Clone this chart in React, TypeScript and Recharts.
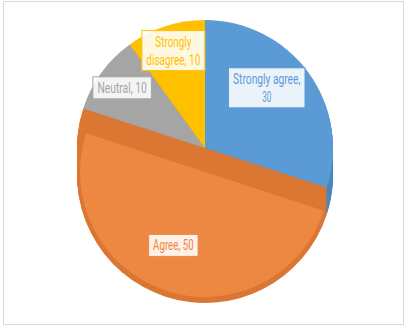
import { Cell, Pie, PieChart } from "recharts";

const categories = ["Strongly agree", "Agree", "Neutral", "Strongly disagree"];
const values = [30, 50, 10, 10];

const FACE = ["#5B9BD5", "#ED8843", "#A5A5A5", "#FFC000"];
const SIDE = ["#4A86C0", "#DB7633", "#8F8F8F", "#E0A800"];

const CX = 205;
const CY = 148;
const R = 128;
const DEPTH = 27;
const LOWERED = 1; // index of the slice that sits at the bottom level

const data = categories.map((name, i) => ({ name, value: values[i] }));
const layers = Array.from({ length: DEPTH }, (_, i) => DEPTH - i);

const wrap = (text: string, max = 15) => {
  const lines: string[] = [];
  let cur = "";
  text.split(" ").forEach((w) => {
    const next = cur ? `${cur} ${w}` : w;
    if (next.length > max && cur) {
      lines.push(cur);
      cur = w;
    } else cur = next;
  });
  if (cur) lines.push(cur);
  return lines;
};

const CHAR_W = 4.5;

const renderLabel = (props: any) => {
  const { cx, cy, midAngle, outerRadius, index, name, value } = props;
  const RAD = Math.PI / 180;
  const r = outerRadius * 0.8;
  const x = cx + r * Math.cos(-midAngle * RAD);
  const y = cy + r * Math.sin(-midAngle * RAD);
  const lines = wrap(`${name}, ${value}`);
  const w = Math.max(...lines.map((l) => l.length)) * CHAR_W + 9;
  const lh = 18;
  const h = lines.length * lh + 4;
  const color = FACE[index];
  // keep the box inside the pie's right rim
  const left = Math.min(x - w / 2, cx + outerRadius - w - 28);
  const mid = left + w / 2;
  return (
    <g key={`lbl-${index}`}>
      <rect x={left} y={y - h / 2} width={w} height={h} fill="#ffffff" fillOpacity={0.88} stroke={color} strokeWidth={1} />
      {lines.map((l, k) => (
        <text
          key={k}
          x={mid}
          y={y - h / 2 + 2 + lh * k + lh / 2}
          textAnchor="middle"
          dominantBaseline="central"
          fill={color}
          fontSize={14}
          fontFamily="Roboto, 'Open Sans', sans-serif"
          textLength={l.length * CHAR_W}
          lengthAdjust="spacingAndGlyphs"
        >
          {l}
        </text>
      ))}
    </g>
  );
};

export default function App() {
  return (
    <div style={{ position: "fixed", left: 0, top: 0, width: 408, height: 331, background: "#fff" }}>
      <div
        style={{
          position: "absolute",
          left: 3,
          top: 1,
          width: 399,
          height: 322,
          border: "1px solid #D9D9D9",
        }}
      />
      <div style={{ position: "absolute", left: 0, top: 0 }}>
        <PieChart width={408} height={331} margin={{ top: 0, right: 0, bottom: 0, left: 0 }}>
          {layers.map((d) => (
            <Pie
              key={`side-${d}`}
              data={data}
              dataKey="value"
              nameKey="name"
              cx={CX}
              cy={CY + d}
              outerRadius={R}
              startAngle={90}
              endAngle={-270}
              stroke="none"
              isAnimationActive={false}
            >
              {data.map((e, i) => (
                <Cell key={e.name} fill={SIDE[i]} />
              ))}
            </Pie>
          ))}
          <Pie
            data={data}
            dataKey="value"
            nameKey="name"
            cx={CX}
            cy={CY}
            outerRadius={R}
            startAngle={90}
            endAngle={-270}
            stroke="none"
            isAnimationActive={false}
          >
            {data.map((e, i) => (
              <Cell key={e.name} fill={i === LOWERED ? SIDE[i] : FACE[i]} />
            ))}
          </Pie>
          <Pie
            data={data}
            dataKey="value"
            nameKey="name"
            cx={CX}
            cy={CY + DEPTH - 3}
            outerRadius={R - 3}
            startAngle={90}
            endAngle={-270}
            stroke="none"
            isAnimationActive={false}
          >
            {data.map((e, i) => (
              <Cell key={e.name} fill={i === LOWERED ? FACE[i] : "transparent"} />
            ))}
          </Pie>
          <Pie
            data={data}
            dataKey="value"
            nameKey="name"
            cx={CX}
            cy={CY}
            outerRadius={R}
            startAngle={90}
            endAngle={-270}
            fill="transparent"
            stroke="none"
            label={renderLabel}
            labelLine={false}
            isAnimationActive={false}
          >
            {data.map((e) => (
              <Cell key={e.name} fill="transparent" />
            ))}
          </Pie>
        </PieChart>
      </div>
    </div>
  );
}
